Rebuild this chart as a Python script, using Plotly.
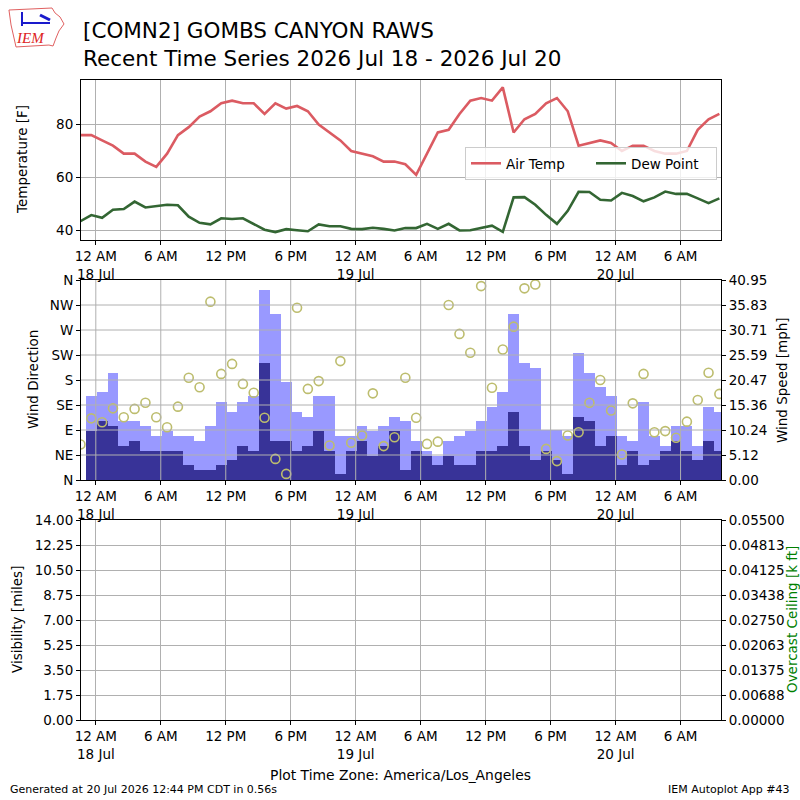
import pandas as pd
import plotly.graph_objects as go

# --- data (hourly RAWS obs, local time) ---
station_title = "[COMN2] GOMBS CANYON RAWS"
period_title = "Recent Time Series 2026 Jul 18 - 2026 Jul 20"

obs_times = pd.date_range("2026-07-17 22:35", periods=60, freq="h")

air_temp = [
    76, 76, 74, 72, 69, 69, 66, 64, 69, 76,
    79, 83, 85, 88, 89, 88, 88, 84, 88, 86,
    87, 85, 80, 77, 74, 70, 69, 68, 66, 66,
    65, 61, 69, 77, 78, 84, 89, 90, 89, 94,
    77, 82, 84, 88, 90, 85, 72, 73, 74, 73,
    70, 72, 72, 70, 69, 69, 70, 78, 82, 84,
]
dew_point = [
    43.5, 45.8, 44.8, 47.8, 48.1, 50.9, 48.7, 49.1, 49.7, 49.5,
    45.2, 42.9, 42.3, 44.6, 44.3, 44.6, 42.3, 40.3, 39.4, 40.5,
    40.1, 39.7, 42.3, 41.6, 41.6, 40.6, 40.5, 41.0, 40.6, 40.0,
    40.9, 40.9, 42.5, 40.6, 42.5, 40.0, 40.1, 41.0, 41.8, 39.5,
    52.5, 52.6, 49.7, 45.9, 42.5, 47.4, 54.6, 54.5, 51.6, 51.3,
    54.2, 53.0, 51.0, 52.5, 54.7, 53.8, 53.8, 52.1, 50.3, 52.1,
]
wind_gust = [
    None, 17.1, 18.1, 22.0, 12.1, 12.1, 11.1, 9.1, 10.1, 9.1,
    9.1, 8.0, 11.1, 16.0, 14.0, 16.0, 17.1, 39.0, 34.0, 20.1,
    14.0, 13.0, 17.1, 17.1, 9.1, 9.1, 11.1, 10.1, 11.1, 13.0,
    12.1, 8.0, 6.0, 5.0, 8.0, 9.1, 10.1, 12.1, 15.0, 18.1,
    34.0, 24.0, 23.0, 10.2, 10.2, 9.1, 26.0, 22.0, 19.1, 17.1,
    9.1, 8.0, 16.0, 9.1, 7.0, 11.1, 11.1, 7.0, 15.0, 14.0,
]
wind_speed = [
    None, 10.1, 12.1, 11.1, 7.0, 8.0, 6.0, 6.0, 6.0, 6.0,
    3.1, 2.1, 2.1, 3.1, 4.1, 7.0, 6.0, 24.0, 8.0, 8.0,
    6.0, 7.0, 10.1, 6.0, 1.2, 6.0, 8.0, 5.0, 7.0, 10.1,
    2.1, 6.0, 5.0, 3.1, 5.0, 3.1, 3.1, 6.0, 6.0, 7.0,
    14.0, 7.0, 4.1, 6.0, 4.1, 1.2, 13.0, 12.1, 7.0, 9.1,
    3.1, 6.0, 3.1, 4.1, 6.0, 8.0, 6.0, 4.1, 8.0, 6.0,
]
wind_dir = [
    64, 111, 104, 129, 113, 128, 139, 113, 95, 132,
    184, 167, 321, 191, 209, 173, 157, 112, 38, 11,
    310, 164, 178, 62, 214, 67, 80, 156, 61, 77,
    184, 112, 65, 69, 315, 263, 229, 349, 166, 235,
    276, 345, 352, 56, 34, 80, 86, 139, 180, 125,
    46, 138, 191, 86, 88, 76, 105, 144, 193, 155,
]

x_ticks = pd.date_range("2026-07-18 00:00", "2026-07-20 06:00", freq="6h")
x_ticklabels = [
    "12 AM<br>18 Jul", "6 AM", "12 PM", "6 PM",
    "12 AM<br>19 Jul", "6 AM", "12 PM", "6 PM",
    "12 AM<br>20 Jul", "6 AM",
]
temp_ticks = [40, 60, 80]
dir_ticks = [0, 45, 90, 135, 180, 225, 270, 315, 360]
dir_labels = ["N", "NE", "E", "SE", "S", "SW", "W", "NW", "N"]
speed_max = 40.95
speed_ticks = [speed_max * k / 8 for k in range(9)]
speed_labels = ["0.00", "5.12", "10.24", "15.36", "20.47",
                "25.59", "30.71", "35.83", "40.95"]
vis_ticks = [1.75 * k for k in range(9)]
vis_labels = ["0.00", "1.75", "3.50", "5.25", "7.00",
              "8.75", "10.50", "12.25", "14.00"]
ceil_max = 0.055
ceil_ticks = [ceil_max * k / 8 for k in range(9)]
ceil_labels = ["0.00000", "0.00688", "0.01375", "0.02063", "0.02750",
               "0.03438", "0.04125", "0.04813", "0.05500"]

# --- layout geometry (paper fractions of the 800x800 canvas) ---
X_DOM = [81 / 800, 721 / 800]
TOP = [0.70, 0.90]
MID = [0.40, 0.65]
BOT = [0.10, 0.35]
X_RANGE = ["2026-07-17 22:38", "2026-07-20 09:44"]

FONT = "DejaVu Sans, Liberation Sans, sans-serif"
GRID = "#b0b0b0"
TEMP_COLOR = "#db5b62"
DEW_COLOR = "#336633"
GUST_COLOR = "#9999ff"
SPEED_COLOR = "#383398"
DIR_COLOR = "#bdbd6e"
LABEL_SIZE = 13.5

axis_style = dict(
    showline=True, linecolor="black", linewidth=1, automargin=False,
    ticks="outside", ticklen=4, tickwidth=1, tickcolor="black",
    gridcolor=GRID, gridwidth=1, zeroline=False,
    tickfont=dict(size=LABEL_SIZE, color="black", family=FONT),
)


def time_axis(anchor, show_grid=True):
    return dict(
        axis_style, type="date", domain=X_DOM, anchor=anchor,
        range=X_RANGE, tickmode="array", tickvals=x_ticks,
        ticktext=x_ticklabels, mirror=True, showgrid=show_grid,
    )


fig = go.Figure()

# temperature panel
fig.add_trace(go.Scatter(
    x=obs_times, y=air_temp, name="Air Temp", mode="lines",
    line=dict(color=TEMP_COLOR, width=2.6), xaxis="x", yaxis="y",
))
fig.add_trace(go.Scatter(
    x=obs_times, y=dew_point, name="Dew Point", mode="lines",
    line=dict(color=DEW_COLOR, width=2.6), xaxis="x", yaxis="y",
))

# wind panel: gust + speed bars on right axis, direction on left
bar_width = 3600 * 1000
fig.add_trace(go.Bar(
    x=obs_times, y=wind_gust, width=bar_width, marker_color=GUST_COLOR,
    marker_line_width=0, showlegend=False, xaxis="x2", yaxis="y2",
))
fig.add_trace(go.Bar(
    x=obs_times, y=wind_speed, width=bar_width, marker_color=SPEED_COLOR,
    marker_line_width=0, showlegend=False, xaxis="x2", yaxis="y2",
))
fig.add_trace(go.Scatter(
    x=obs_times, y=wind_dir, mode="markers", showlegend=False,
    marker=dict(symbol="circle-open", size=9, color=DIR_COLOR,
                line=dict(width=1.6, color=DIR_COLOR)),
    xaxis="x2", yaxis="y3",
))

# visibility / ceiling panel (no data reported)
fig.add_trace(go.Scatter(x=[], y=[], showlegend=False, xaxis="x3", yaxis="y4"))
fig.add_trace(go.Scatter(x=[], y=[], showlegend=False, xaxis="x3", yaxis="y5"))

# grid lines drawn over the bars, as matplotlib does
grid_shapes = []
for t in dir_ticks[1:-1]:
    grid_shapes.append(dict(
        type="line", xref="x2 domain", x0=0, x1=1, yref="y3", y0=t, y1=t,
        line=dict(color=GRID, width=1), layer="above",
    ))
for t in x_ticks:
    grid_shapes.append(dict(
        type="line", xref="x2", x0=t, x1=t, yref="y2 domain", y0=0, y1=1,
        line=dict(color=GRID, width=1), layer="above",
    ))


def px_path(points):
    parts = [f"{x / 800:.4f},{1 - y / 800:.4f}" for x, y in points]
    return "M " + " L ".join(parts) + " Z"


# rough IEM logo (outline of Iowa + station glyph)
iowa_outline = [(9, 10), (52, 8), (55, 13), (60, 17), (64, 24), (59, 31),
                (56, 38), (53, 46), (49, 45), (16, 47), (14, 38), (11, 25)]
logo_shapes = [
    dict(type="path", xref="paper", yref="paper", path=px_path(iowa_outline),
         line=dict(color="#e06060", width=1)),
    dict(type="line", xref="paper", yref="paper",
         x0=22 / 800, x1=50 / 800, y0=1 - 23 / 800, y1=1 - 23 / 800,
         line=dict(color="#1a1acc", width=2)),
    dict(type="line", xref="paper", yref="paper",
         x0=22 / 800, x1=22 / 800, y0=1 - 12 / 800, y1=1 - 26 / 800,
         line=dict(color="#1a1acc", width=2)),
    dict(type="line", xref="paper", yref="paper",
         x0=40 / 800, x1=50 / 800, y0=1 - 15 / 800, y1=1 - 20 / 800,
         line=dict(color="#1a1acc", width=3)),
]


def label(text, x, y, size=LABEL_SIZE, angle=0, anchor="center", color="black"):
    return dict(text=text, x=x, y=y, textangle=angle, xanchor=anchor,
                yanchor="middle", xref="paper", yref="paper", showarrow=False,
                font=dict(size=size, family=FONT, color=color))


annotations = [
    label(station_title, 81 / 800, 1 - 31 / 800, size=21.5, anchor="left"),
    label(period_title, 81 / 800, 1 - 58 / 800, size=21.5, anchor="left"),
    dict(text="<i>IEM</i>", x=30 / 800, y=1 - 38 / 800, xanchor="center",
         yanchor="middle", xref="paper", yref="paper", showarrow=False,
         font=dict(size=15, family="Liberation Serif, serif", color="#dd2222")),
    label("Temperature [F]", 22 / 800, sum(TOP) / 2, angle=-90),
    label("Wind Direction", 33 / 800, sum(MID) / 2, angle=-90),
    label("Wind Speed [mph]", 782 / 800, sum(MID) / 2, angle=-90),
    label("Visibility [miles]", 17 / 800, sum(BOT) / 2, angle=-90),
    label("Overcast Ceiling [k ft]", 792 / 800, sum(BOT) / 2, angle=-90,
          color="green"),
    label("Plot Time Zone: America/Los_Angeles", 0.5, 1 - 775 / 800,
          size=13.9),
    label("Generated at 20 Jul 2026 12:44 PM CDT in 0.56s", 8 / 800,
          1 - 789 / 800, size=11, anchor="left"),
    label("IEM Autoplot App #43", 792 / 800, 1 - 789 / 800, size=11,
          anchor="right"),
]

fig.update_layout(
    width=800, height=800, autosize=False,
    margin=dict(l=0, r=0, t=0, b=0, autoexpand=False),
    paper_bgcolor="white", plot_bgcolor="white",
    font=dict(family=FONT, size=LABEL_SIZE, color="black"),
    barmode="overlay", bargap=0,
    xaxis=time_axis("y"),
    yaxis=dict(axis_style, domain=TOP, anchor="x", range=[36.4, 96.8],
               tickmode="array", tickvals=temp_ticks, mirror=True,
               showgrid=True),
    xaxis2=time_axis("y2", show_grid=False),
    yaxis2=dict(axis_style, domain=MID, anchor="x2", side="right",
                range=[0, speed_max], tickmode="array", tickvals=speed_ticks,
                ticktext=speed_labels, showgrid=False),
    yaxis3=dict(axis_style, overlaying="y2", anchor="x2", side="left",
                range=[0, 360], tickmode="array", tickvals=dir_ticks,
                ticktext=dir_labels, showgrid=False),
    xaxis3=time_axis("y4"),
    yaxis4=dict(axis_style, domain=BOT, anchor="x3", side="left",
                range=[0, 14], tickmode="array", tickvals=vis_ticks,
                ticktext=vis_labels, showgrid=True),
    yaxis5=dict(axis_style, overlaying="y4", anchor="x3", side="right",
                range=[0, ceil_max], tickmode="array", tickvals=ceil_ticks,
                ticktext=ceil_labels, showgrid=False),
    legend=dict(
        orientation="h", x=465 / 800, y=1 - 147 / 800, xanchor="left",
        yanchor="top", bgcolor="rgba(255,255,255,0.8)",
        bordercolor="#cccccc", borderwidth=1,
        font=dict(size=LABEL_SIZE, family=FONT, color="black"),
        entrywidth=80, entrywidthmode="pixels",
    ),
    shapes=grid_shapes + logo_shapes,
    annotations=annotations,
)

# drop the browser's default 8px body margin so the figure sits at (0, 0)
fig.write_html(
    "out.html",
    config={"displayModeBar": False},
    post_script="document.body.style.margin = '0'; "
                "document.body.style.overflow = 'hidden';",
)
